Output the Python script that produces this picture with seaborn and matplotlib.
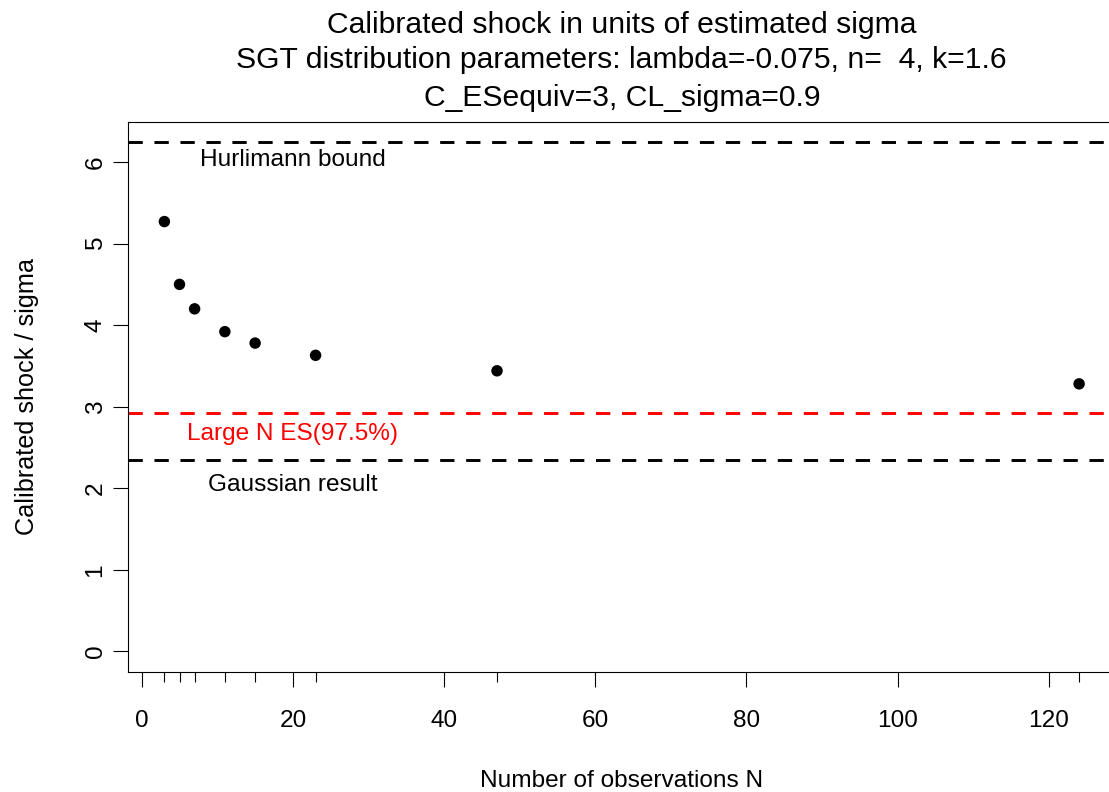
import matplotlib
matplotlib.use("Agg")
import matplotlib.pyplot as plt
import seaborn as sns
import pandas as pd

# ---- data ----
n_obs = [3, 5, 7, 11, 15, 23, 47, 124]
shock = [5.27, 4.50, 4.20, 3.92, 3.78, 3.63, 3.44, 3.28]
hurlimann_bound = 6.245
large_n_es = 2.925
gaussian_result = 2.35

title_lines = [
    "Calibrated shock in units of estimated sigma",
    "SGT distribution parameters: lambda=-0.075, n=  4, k=1.6",
    "C_ESequiv=3, CL_sigma=0.9",
]
x_ticks = [0, 20, 40, 60, 80, 100, 120]
y_ticks = [0, 1, 2, 3, 4, 5, 6]
x_label = "Number of observations N"
y_label = "Calibrated shock / sigma"
annot_x = 20
annot_labels = ["Hurlimann bound", "Large N ES(97.5%)", "Gaussian result"]
annot_y = [5.95, 2.595, 1.97]
annot_colors = ["black", "red", "black"]

# ---- style ----
sns.set_style("white")
plt.rcParams['font.family'] = ['Liberation Sans', 'DejaVu Sans']
plt.rcParams['lines.scale_dashes'] = False

BASE = 17.6
TITLE = 21.7

W, H = 1109, 792
fig = plt.figure(figsize=(W / 100, H / 100), dpi=100)
L, R, T, B = 127.8, 1115.7, 121.7, 671.7
ax = fig.add_axes([L / W, 1 - B / H, (R - L) / W, (B - T) / H])

df = pd.DataFrame({"N": n_obs, "shock": shock})
sns.scatterplot(data=df, x="N", y="shock", ax=ax, color="black", s=68,
                edgecolor="none", linewidth=0, zorder=3, legend=False)

dash = (0, (10.3, 8.4))
ax.axhline(hurlimann_bound, color="black", lw=2.1, linestyle=dash)
ax.axhline(large_n_es, color="red", lw=2.1, linestyle=dash)
ax.axhline(gaussian_result, color="black", lw=2.1, linestyle=dash)

for lab, yy, cc in zip(annot_labels, annot_y, annot_colors):
    ax.text(annot_x, yy, lab, color=cc, fontsize=BASE, ha="center", va="baseline")

# R-style 4% axis extension
xr = max(n_obs) - min(n_obs)
ax.set_xlim(min(n_obs) - 0.04 * xr, max(n_obs) + 0.04 * xr)
ax.set_ylim(-0.04 * hurlimann_bound, hurlimann_bound * 1.04)

ax.set_xticks(x_ticks)
ax.set_xticklabels([str(v) for v in x_ticks])
ax.set_xticks(n_obs, minor=True)
ax.set_yticks(y_ticks)
ax.set_yticklabels([str(v) for v in y_ticks])

ax.tick_params(axis="both", which="major", direction="out", length=10.8, width=0.8,
               color="black", labelcolor="black", labelsize=BASE, bottom=True, left=True)
ax.tick_params(axis="x", which="major", pad=17)
ax.tick_params(axis="y", which="major", pad=4.5)
ax.tick_params(axis="x", which="minor", direction="out", length=7.2, width=0.8,
               color="black", bottom=True)
for lbl in ax.get_yticklabels():
    lbl.set_rotation(90)
    lbl.set_va("center")
    lbl.set_ha("right")

ax.set_xlabel("")
ax.set_ylabel("")
for side in ["left", "top", "bottom"]:
    ax.spines[side].set_visible(True)
    ax.spines[side].set_color("black")
    ax.spines[side].set_linewidth(0.8)
ax.spines["right"].set_visible(False)

# titles and axis labels
cx = ((L + R) / 2) / W
for line, base_px in zip(title_lines, [33, 68, 106]):
    fig.text(cx, 1 - base_px / H, line, fontsize=TITLE, ha="center", va="baseline",
             color="black")
fig.text(cx, 1 - 787 / H, x_label, fontsize=BASE, ha="center", va="baseline", color="black")
fig.text(27 / W, 1 - ((T + B) / 2) / H, y_label, fontsize=18.2, ha="center", va="center",
         rotation=90, color="black")

fig.savefig("out.png", dpi=100)
